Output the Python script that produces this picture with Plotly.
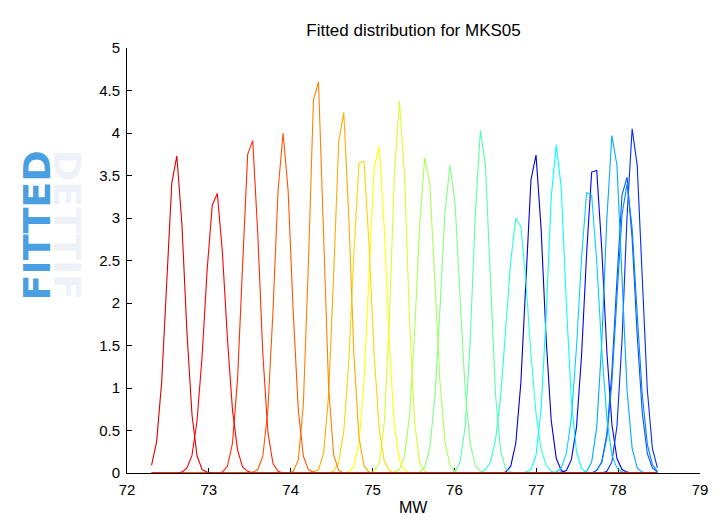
import numpy as np
import plotly.graph_objects as go

# ---- data: sampled fitted densities on a common MW grid ----
mw_first = 72.30
mw_last = 78.48
n_grid = 101

# index of first non-zero sample and the non-zero density samples, one per sample (left to right)
peak_start_index = [0, 6, 14, 20, 28, 32, 36, 39, 44, 48, 53, 60, 65, 70, 74, 80, 81, 86, 88, 88, 90]
peak_density = [
    [0.09, 0.37, 1.07, 2.24, 3.41, 3.73, 2.93, 1.65, 0.68, 0.20, 0.04, 0.01],
    [0.01, 0.06, 0.21, 0.62, 1.38, 2.40, 3.15, 3.29, 2.60, 1.58, 0.74, 0.27, 0.07, 0.02],
    [0.01, 0.08, 0.35, 1.11, 2.45, 3.75, 3.91, 2.81, 1.40, 0.48, 0.11, 0.02],
    [0.01, 0.04, 0.20, 0.75, 1.90, 3.32, 4.00, 3.32, 1.90, 0.75, 0.20, 0.04, 0.01],
    [0.02, 0.15, 0.80, 2.45, 4.39, 4.60, 2.82, 1.01, 0.21, 0.03],
    [0.01, 0.04, 0.23, 0.91, 2.34, 3.90, 4.24, 3.00, 1.39, 0.42, 0.08, 0.01],
    [0.02, 0.13, 0.49, 1.32, 2.59, 3.64, 3.67, 2.67, 1.39, 0.52, 0.14, 0.03],
    [0.01, 0.08, 0.35, 1.08, 2.35, 3.59, 3.84, 2.89, 1.52, 0.56, 0.15, 0.03],
    [0.02, 0.12, 0.59, 1.80, 3.51, 4.38, 3.51, 1.80, 0.59, 0.12, 0.02],
    [0.01, 0.04, 0.20, 0.68, 1.65, 2.91, 3.71, 3.41, 2.26, 1.08, 0.37, 0.09, 0.02],
    [0.01, 0.07, 0.29, 0.89, 1.91, 3.07, 3.62, 3.17, 2.05, 0.96, 0.34, 0.09, 0.02],
    [0.02, 0.13, 0.55, 1.57, 3.05, 4.03, 3.62, 2.21, 0.92, 0.26, 0.05, 0.01],
    [0.01, 0.04, 0.13, 0.39, 0.89, 1.66, 2.49, 3.00, 2.90, 2.25, 1.40, 0.70, 0.28, 0.09, 0.02],
    [0.01, 0.08, 0.35, 1.06, 2.26, 3.45, 3.74, 2.88, 1.58, 0.62, 0.17, 0.03],
    [0.01, 0.04, 0.21, 0.75, 1.84, 3.24, 3.86, 3.35, 1.98, 0.84, 0.25, 0.05, 0.01],
    [0.01, 0.06, 0.23, 0.66, 1.48, 2.53, 3.30, 3.27, 2.49, 1.44, 0.64, 0.21, 0.06, 0.01],
    [0.01, 0.03, 0.16, 0.54, 1.38, 2.58, 3.54, 3.56, 2.63, 1.43, 0.57, 0.17, 0.04, 0.01],
    [0.02, 0.13, 0.54, 1.54, 2.99, 3.97, 3.62, 2.27, 0.97, 0.29, 0.06, 0.01],
    [0.03, 0.13, 0.46, 1.19, 2.28, 3.27, 3.48, 2.76, 1.62, 0.71, 0.23, 0.06, 0.01],
    [0.03, 0.13, 0.42, 1.07, 2.07, 3.04, 3.40, 2.88, 1.87, 0.92, 0.34, 0.10, 0.02],
    [0.02, 0.13, 0.55, 1.56, 3.03, 4.05, 3.62, 2.30, 0.98, 0.29, 0.06],
]

# ---- styles ----
line_colors = [
    "rgb(217,0,0)", "rgb(255,0,0)", "rgb(255,43,0)", "rgb(255,85,0)", "rgb(255,128,0)",
    "rgb(255,170,0)", "rgb(255,212,0)", "rgb(255,255,0)", "rgb(212,255,43)", "rgb(170,255,85)",
    "rgb(128,255,128)", "rgb(85,255,170)", "rgb(43,255,212)", "rgb(0,0,212)", "rgb(0,255,255)",
    "rgb(0,212,255)", "rgb(0,0,255)", "rgb(0,170,255)", "rgb(0,85,255)", "rgb(0,128,255)",
    "rgb(0,43,255)",
]
draw_order = [13, 16, 20, 18, 19, 17, 15, 14, 12, 11, 10, 9, 8, 7, 6, 5, 4, 3, 2, 1, 0]

mw = np.linspace(mw_first, mw_last, n_grid)

fig = go.Figure()
for k in draw_order:
    y = np.zeros(n_grid)
    vals = peak_density[k]
    s = peak_start_index[k]
    y[s:s + len(vals)] = vals
    fig.add_trace(go.Scatter(
        x=mw, y=y, mode="lines",
        line=dict(color=line_colors[k], width=1.1),
        hoverinfo="skip", showlegend=False, cliponaxis=False,
    ))

font_family = "Arial, Liberation Sans, Helvetica, sans-serif"

fig.update_layout(
    width=720, height=525,
    margin=dict(l=127, r=17, t=48, b=52),
    paper_bgcolor="white", plot_bgcolor="white",
    font=dict(family=font_family, size=15, color="black"),
    showlegend=False,
    title=dict(text="Fitted distribution for MKS05", x=0.5, xref="paper",
               y=1 - 30 / 525, yanchor="middle", xanchor="center",
               font=dict(size=17, color="black")),
)
fig.update_xaxes(
    range=[72, 79], dtick=1, tick0=72, showgrid=False, zeroline=False,
    showline=True, linecolor="black", linewidth=1, mirror=False,
    ticks="inside", ticklen=5, tickcolor="black", layer="below traces",
    tickfont=dict(size=15), ticklabelstandoff=3,
)
fig.update_yaxes(
    range=[0, 5], dtick=0.5, tick0=0, showgrid=False, zeroline=False,
    showline=True, linecolor="black", linewidth=1, mirror=False,
    ticks="inside", ticklen=5, tickcolor="black", layer="below traces",
    tickfont=dict(size=15), ticklabelstandoff=3,
)

fig.add_annotation(text="MW", xref="paper", yref="paper", x=0.5, y=-35 / 425,
                   xanchor="center", yanchor="middle", showarrow=False,
                   font=dict(size=16, color="black"))

# watermark-like rotated label with a faded reflection
fig.add_annotation(text="<b>FITTED</b>", xref="paper", yref="paper",
                   x=(37 - 127) / 576, y=(473 - 225) / 425, textangle=-90,
                   xanchor="center", yanchor="middle", showarrow=False,
                   font=dict(size=38, color="#4a9fe3", family="DejaVu Sans"))
fig.add_annotation(text="<b>DETTIF</b>", xref="paper", yref="paper",
                   x=(67 - 127) / 576, y=(473 - 225) / 425, textangle=90,
                   xanchor="center", yanchor="middle", showarrow=False,
                   font=dict(size=38, color="rgba(150,170,205,0.16)", family="DejaVu Sans"))

fig.write_html("out.html")
